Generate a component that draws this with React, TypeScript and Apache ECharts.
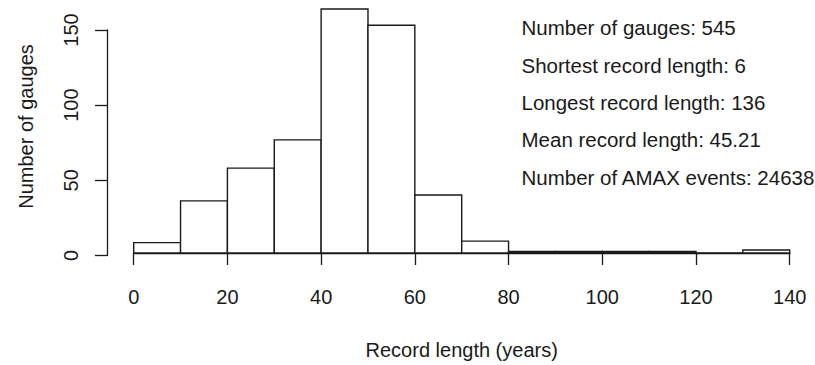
import React, { useEffect, useRef } from "react";
import * as echarts from "echarts";

const binStarts = [0, 10, 20, 30, 40, 50, 60, 70, 80, 90, 100, 110, 120, 130];
const binWidth = 10;
const counts = [7, 35, 57, 76, 164, 153, 39, 8, 1, 1, 1, 1, 0, 2];
const xTicks = [0, 20, 40, 60, 80, 100, 120, 140];
const yTicks = [0, 50, 100, 150];
const statLines = [
  "Number of gauges: 545",
  "Shortest record length: 6",
  "Longest record length: 136",
  "Mean record length: 45.21",
  "Number of AMAX events: 24638",
];

const FONT = "'Liberation Sans', Arial, Helvetica, sans-serif";
const INK = "#1a1a1a";

export default function App() {
  const ref = useRef<HTMLDivElement>(null);
  useEffect(() => {
    if (!ref.current) return;
    const chart = echarts.init(ref.current, null, { renderer: "svg" });
    const data = binStarts.map((s, i) => [s, s + binWidth, counts[i]]);
    const option: any = {
      animation: false,
      backgroundColor: "#ffffff",
      textStyle: { fontFamily: FONT },
      grid: [
        { left: 133.7, right: 25.3, top: 0, bottom: 109.5, containLabel: false },
        { left: 107, width: 10, top: 30, bottom: 109.5, containLabel: false },
      ],
      xAxis: [
        {
          type: "value",
          gridIndex: 0,
          min: xTicks[0],
          max: xTicks[xTicks.length - 1],
          interval: 20,
          offset: 10,
          axisLine: { show: true, lineStyle: { color: INK, width: 1.3 } },
          axisTick: { show: true, length: 12, lineStyle: { color: INK, width: 1.3 } },
          axisLabel: { show: true, margin: 24, fontSize: 20, color: INK, fontFamily: FONT },
          splitLine: { show: false },
          name: "Record length (years)",
          nameLocation: "middle",
          nameGap: 77,
          nameTextStyle: { fontSize: 20, color: INK, fontFamily: FONT },
        },
        {
          type: "value",
          gridIndex: 1,
          show: false,
          min: 0,
          max: 1,
        },
      ],
      yAxis: [
        {
          type: "value",
          gridIndex: 0,
          min: 0,
          max: 170,
          axisLine: { show: false },
          axisTick: { show: false },
          axisLabel: { show: false },
          splitLine: { show: false },
          name: "Number of gauges",
          nameLocation: "middle",
          nameRotate: 90,
          nameGap: 98,
          nameTextStyle: { fontSize: 20, color: INK, fontFamily: FONT },
        },
        {
          type: "value",
          gridIndex: 1,
          position: "left",
          min: yTicks[0],
          max: yTicks[yTicks.length - 1],
          interval: 50,
          axisLine: { show: true, lineStyle: { color: INK, width: 1.3 } },
          axisTick: { show: true, length: 12, lineStyle: { color: INK, width: 1.3 } },
          axisLabel: { show: true, rotate: 90, margin: 26, fontSize: 20, color: INK, fontFamily: FONT },
          splitLine: { show: false },
        },
      ],
      series: [
        {
          type: "custom",
          xAxisIndex: 0,
          yAxisIndex: 0,
          encode: { x: [0, 1], y: 2 },
          data,
          renderItem: (params: any, api: any) => {
            const x0 = api.value(0);
            const x1 = api.value(1);
            const c = api.value(2);
            const p0 = api.coord([x0, c]);
            const p1 = api.coord([x1, 0]);
            return {
              type: "rect",
              shape: { x: p0[0], y: p0[1], width: p1[0] - p0[0], height: p1[1] - p0[1] },
              style: { fill: "#ffffff", stroke: INK, lineWidth: 1.4 },
            };
          },
        },
      ],
      graphic: statLines.map((t, i) => ({
        type: "text",
        left: 521.5,
        top: 28.8 + i * 37.3 - 11.5,
        style: { text: t, fontSize: 20.5, fill: INK, fontFamily: FONT },
      })),
    };
    chart.setOption(option);
    return () => chart.dispose();
  }, []);
  return (
    <div
      ref={ref}
      style={{ position: "fixed", left: 0, top: 0, width: 815, height: 365, background: "#fff" }}
    />
  );
}
